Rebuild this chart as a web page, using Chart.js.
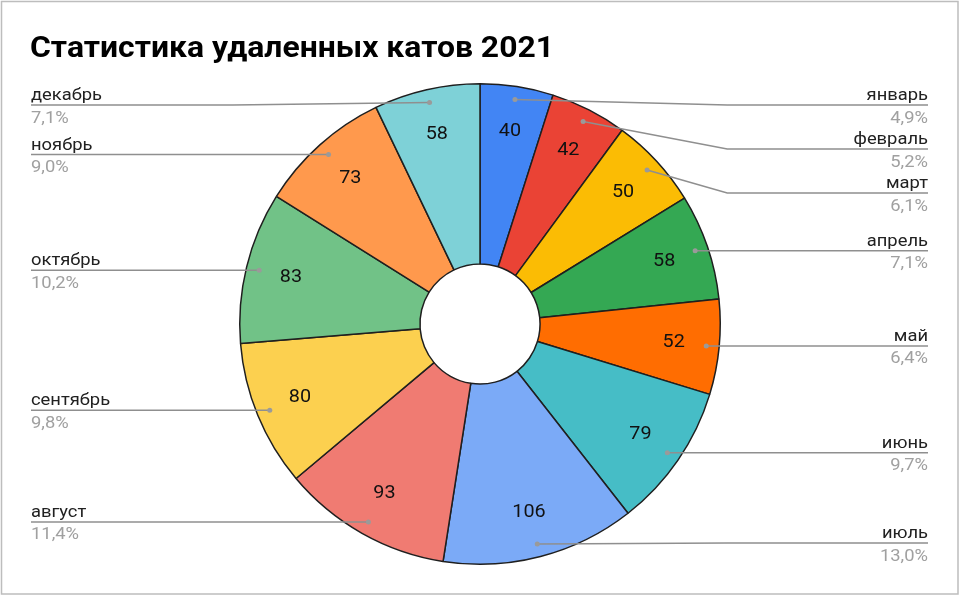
<!DOCTYPE html>
<html><head><meta charset="utf-8">
<script src="https://cdn.jsdelivr.net/npm/chart.js@4.4.0/dist/chart.umd.min.js"></script>
<style>html,body{margin:0;padding:0;background:#fff}#wrap{width:960px;height:595px;position:relative}</style>
</head><body><div id="wrap"><canvas id="c" width="960" height="595"></canvas></div>
<script>
const titleText = 'Статистика удаленных катов 2021';
const months = ['январь','февраль','март','апрель','май','июнь','июль','август','сентябрь','октябрь','ноябрь','декабрь'];
const counts = [40,42,50,58,52,79,106,93,80,83,73,58];
const colors = ['#4285F4','#EA4335','#FBBC04','#34A853','#FF6D01','#46BDC6','#7BAAF7','#F07B72','#FCD04F','#71C287','#FF994D','#7ED1D7'];

function drawText(ctx, text, x, y, align, baseline, sx) {
  ctx.save();
  ctx.translate(x, y);
  ctx.scale(sx || 1.08, 1);
  ctx.textAlign = align;
  ctx.textBaseline = baseline || 'alphabetic';
  ctx.fillText(text, 0, 0);
  ctx.restore();
}

const labelsPlugin = {
  id: 'pieLabels',
  beforeDraw(chart) {
    const ctx = chart.ctx;
    ctx.save();
    ctx.fillStyle = '#fff';
    ctx.fillRect(0, 0, chart.width, chart.height);
    ctx.strokeStyle = '#bdbdbd';
    ctx.lineWidth = 1.5;
    ctx.strokeRect(1.5, 1.5, chart.width - 3.5, chart.height - 2.5);
    ctx.fillStyle = '#000';
    ctx.font = 'bold 29px Roboto';
    drawText(ctx, titleText, 30, 57, 'left', 'alphabetic', 1.1);
    ctx.restore();
  },
  afterDatasetsDraw(chart) {
    const ctx = chart.ctx;
    const meta = chart.getDatasetMeta(0);
    const total = counts.reduce((a, b) => a + b, 0);
    const right = [], left = [];
    ctx.save();
    meta.data.forEach((arc, i) => {
      const p = arc.getProps(['x', 'y', 'startAngle', 'endAngle', 'innerRadius', 'outerRadius'], true);
      const mid = (p.startAngle + p.endAngle) / 2;
      const rv = p.outerRadius * 0.81;
      ctx.fillStyle = '#111';
      ctx.font = '18px Roboto';
      drawText(ctx, String(counts[i]), p.x + Math.cos(mid) * rv, p.y + Math.sin(mid) * rv, 'center', 'middle', 1.1);
      const rd = p.outerRadius * 0.946;
      const it = { i, dx: p.x + Math.cos(mid) * rd, dy: p.y + Math.sin(mid) * rd, cx: p.x, R: p.outerRadius };
      (Math.cos(mid) >= 0 ? right : left).push(it);
    });
    const minY = 105, maxY = 543, gap = 44;
    [right, left].forEach(arr => {
      arr.sort((a, b) => a.dy - b.dy);
      let prev = -Infinity;
      arr.forEach(it => { it.ly = Math.max(it.dy, minY, prev + gap); prev = it.ly; });
      let next = Infinity;
      for (let k = arr.length - 1; k >= 0; k--) { arr[k].ly = Math.min(arr[k].ly, maxY, next - gap); next = arr[k].ly; }
    });
    const drawLabel = (it, isRight) => {
      const tx = isRight ? 928 : 31;
      const bend = isRight ? it.cx + it.R + 7 : it.cx - it.R - 7;
      ctx.strokeStyle = '#8f8f8f';
      ctx.lineWidth = 1.5;
      ctx.beginPath();
      ctx.moveTo(tx, it.ly);
      if (Math.abs(it.ly - it.dy) > 0.5) ctx.lineTo(bend, it.ly);
      ctx.lineTo(it.dx, it.dy);
      ctx.stroke();
      ctx.fillStyle = '#9a9a9a';
      ctx.beginPath();
      ctx.arc(it.dx, it.dy, 2.5, 0, Math.PI * 2);
      ctx.fill();
      ctx.font = '17px Roboto';
      ctx.fillStyle = '#212121';
      drawText(ctx, months[it.i], tx, it.ly - 5, isRight ? 'right' : 'left');
      ctx.fillStyle = '#a0a0a0';
      const pct = (counts[it.i] / total * 100).toFixed(1).replace('.', ',') + '%';
      drawText(ctx, pct, tx, it.ly + 17.5, isRight ? 'right' : 'left');
    };
    right.forEach(it => drawLabel(it, true));
    left.forEach(it => drawLabel(it, false));
    ctx.restore();
  }
};

new Chart(document.getElementById('c'), {
  type: 'doughnut',
  data: {
    labels: months,
    datasets: [{
      data: counts,
      backgroundColor: colors,
      borderColor: '#1f1f1f',
      borderWidth: 1.5
    }]
  },
  options: {
    responsive: false,
    devicePixelRatio: 1,
    animation: false,
    events: [],
    cutout: '25%',
    layout: { padding: { top: 83, bottom: 30, left: 0, right: 0 } },
    plugins: { legend: { display: false }, tooltip: { enabled: false }, title: { display: false } }
  },
  plugins: [labelsPlugin]
});
</script>
</body></html>
